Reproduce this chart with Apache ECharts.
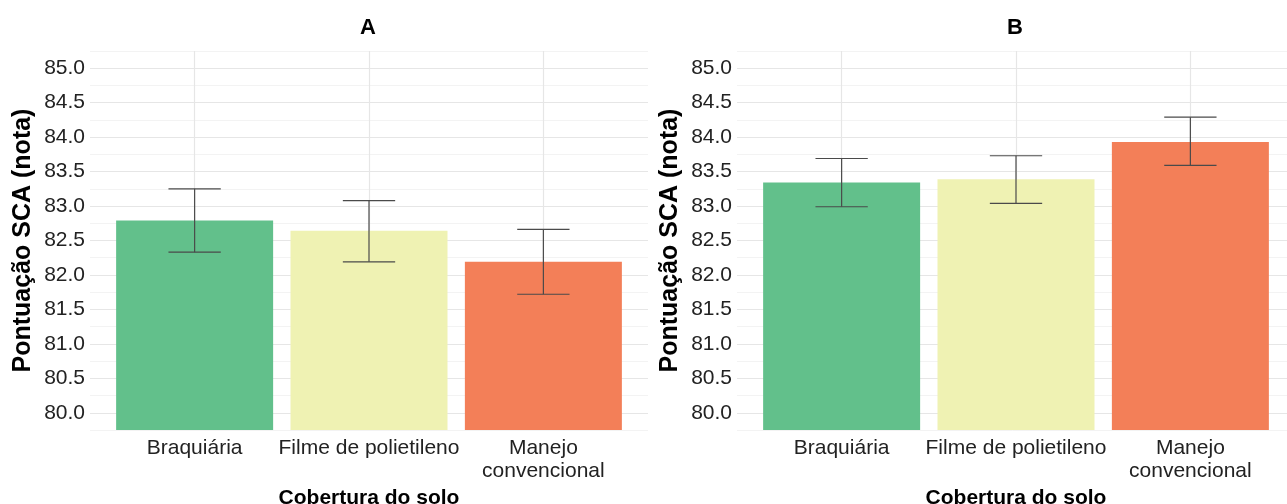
<!DOCTYPE html>
<html>
<head>
<meta charset="utf-8">
<script src="https://cdn.jsdelivr.net/npm/echarts@6/dist/echarts.min.js"></script>
<style>
  html, body { margin: 0; padding: 0; background: #fff; }
  #chart { width: 1287px; height: 504px; }
</style>
</head>
<body>
<div id="chart"></div>
<script>
// dados
const categories = ['Braquiária', 'Filme de polietileno', 'Manejo\nconvencional'];
const barColors = ['#62C08B', '#EFF2B3', '#F37F58'];
const yTicks = [80, 80.5, 81, 81.5, 82, 82.5, 83, 83.5, 84, 84.5, 85];
const yMinorTicks = [79.75, 80.25, 80.75, 81.25, 81.75, 82.25, 82.75, 83.25, 83.75, 84.25, 84.75, 85.25];

const meanA = [82.79, 82.64, 82.19];
const lowA = [82.33, 82.19, 81.72];
const highA = [83.25, 83.08, 82.66];

const meanB = [83.34, 83.39, 83.93];
const lowB = [82.99, 83.04, 83.59];
const highB = [83.69, 83.73, 84.29];

const FONT = "'Liberation Sans', Arial, sans-serif";
const chart = echarts.init(document.getElementById('chart'));

const panels = [
  { title: 'A', left: 90, mean: meanA, low: lowA, high: highA },
  { title: 'B', left: 737, mean: meanB, low: lowB, high: highB }
];
const plotW = 558;

const option = {
  animation: false,
  graphic: [],
  grid: [],
  xAxis: [],
  yAxis: [],
  series: []
};

panels.forEach((p, i) => {
  // título do painel
  option.graphic.push({
    type: 'text',
    x: p.left + plotW / 2 - 1,
    y: 28,
    style: {
      text: p.title,
      textAlign: 'center',
      textVerticalAlign: 'middle',
      fontFamily: FONT, fontSize: 22, fontWeight: 'bold', fill: '#000'
    }
  });
  option.grid.push({ left: p.left, top: 51, width: plotW, height: 379, outerBoundsMode: 'none' });

  option.xAxis.push({
    type: 'value',
    gridIndex: i,
    min: 0.4,
    max: 3.6,
    name: 'Cobertura do solo',
    nameLocation: 'middle',
    nameGap: 55,
    nameTextStyle: { fontFamily: FONT, fontSize: 21, fontWeight: 'bold', color: '#000' },
    axisLine: { show: false },
    axisTick: { show: false, customValues: [1, 2, 3] },
    axisLabel: {
      customValues: [1, 2, 3],
      formatter: v => categories[Math.round(v) - 1],
      fontFamily: FONT, fontSize: 21, color: '#222', lineHeight: 23, margin: 7
    },
    splitLine: { show: true, lineStyle: { color: '#e6e6e6', width: 1.2 } }
  });

  // eixo principal
  option.yAxis.push({
    type: 'value',
    gridIndex: i,
    min: 79.75,
    max: 85.25,
    name: 'Pontuação SCA (nota)',
    nameLocation: 'middle',
    nameGap: 54,
    nameTextStyle: { fontFamily: FONT, fontSize: 25, fontWeight: 'bold', color: '#000' },
    axisLine: { show: false },
    axisTick: { show: false, customValues: yTicks },
    axisLabel: {
      customValues: yTicks,
      formatter: v => v.toFixed(1),
      fontFamily: FONT, fontSize: 21, color: '#222', margin: 5
    },
    splitLine: { show: true, lineStyle: { color: '#e6e6e6', width: 1.2 } }
  });
  // linhas secundárias
  option.yAxis.push({
    type: 'value',
    gridIndex: i,
    position: 'left',
    min: 79.75,
    max: 85.25,
    axisLine: { show: false },
    axisTick: { show: false, customValues: yMinorTicks },
    axisLabel: { show: false, customValues: yMinorTicks },
    splitLine: { show: true, lineStyle: { color: '#f3f3f3', width: 1 } }
  });

  const yIdx = i * 2;
  option.series.push({
    type: 'bar',
    xAxisIndex: i,
    yAxisIndex: yIdx,
    barWidth: 157,
    clip: true,
    data: p.mean.map((v, k) => ({ value: [k + 1, v], itemStyle: { color: barColors[k] } }))
  });
  option.series.push({
    type: 'custom',
    xAxisIndex: i,
    yAxisIndex: yIdx,
    z: 5,
    data: p.mean.map((v, k) => [k + 1, p.low[k], p.high[k]]),
    renderItem: (params, api) => {
      const x = api.value(0);
      const lo = api.coord([x, api.value(1)]);
      const hi = api.coord([x, api.value(2)]);
      const half = api.size([0.15, 0])[0];
      const style = { stroke: '#4a4a4a', lineWidth: 1.2 };
      return {
        type: 'group',
        children: [
          { type: 'line', shape: { x1: lo[0], y1: lo[1], x2: hi[0], y2: hi[1] }, style },
          { type: 'line', shape: { x1: hi[0] - half, y1: hi[1], x2: hi[0] + half, y2: hi[1] }, style },
          { type: 'line', shape: { x1: lo[0] - half, y1: lo[1], x2: lo[0] + half, y2: lo[1] }, style }
        ]
      };
    }
  });
});

chart.setOption(option);
</script>
</body>
</html>
